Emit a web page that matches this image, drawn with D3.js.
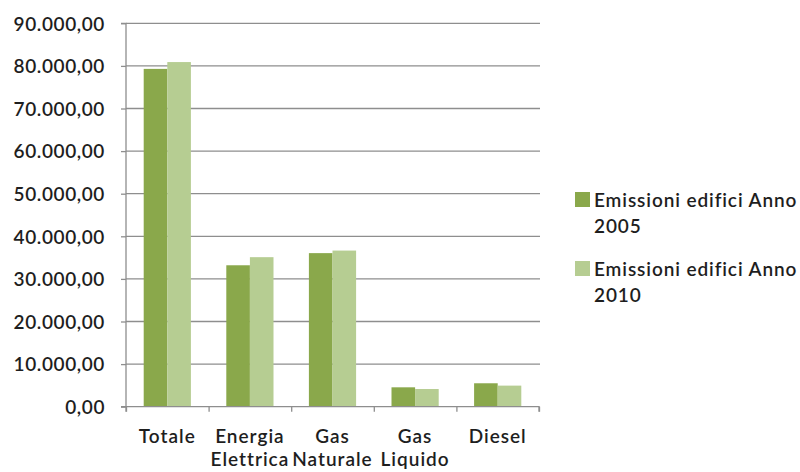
<!DOCTYPE html>
<html><head><meta charset="utf-8">
<script src="https://cdn.jsdelivr.net/npm/d3@7"></script>
<style>body{margin:0;background:#fff}</style>
</head><body>
<svg id="c" width="800" height="472"></svg>
<script>
const categories = [["Totale"], ["Energia","Elettrica"], ["Gas","Naturale"], ["Gas","Liquido"], ["Diesel"]];
const series = ["Emissioni edifici Anno 2005", "Emissioni edifici Anno 2010"];
const legendLines = [["Emissioni edifici Anno","2005"],["Emissioni edifici Anno","2010"]];
const values2005 = [79300, 33200, 36050, 4550, 5500];
const values2010 = [80900, 35100, 36650, 4150, 4950];
const yTicks = [0,10000,20000,30000,40000,50000,60000,70000,80000,90000];
const colors = ["#8aa84b", "#b6cd92"];

(function(){
const svg = d3.select("#c");
const pLeft = 126, pRight = 539, pTop = 23.3, pBottom = 406.7;
const font = "Lato, 'Open Sans', sans-serif";
const fs = 19;

const x = d3.scaleBand().domain(d3.range(categories.length)).range([pLeft, pRight]).paddingInner(0).paddingOuter(0);
const y = d3.scaleLinear().domain([0, 90000]).range([pBottom, pTop]);
const bw = x.bandwidth() / 3.5;

const fmt = v => d3.format(",.2f")(v).replace(/,/g,"#").replace(/\./g,",").replace(/#/g,".");

// gridlines
svg.append("g").selectAll("line").data(yTicks.filter(d=>d>0)).join("line")
  .attr("x1", pLeft).attr("x2", 540).attr("y1", d=>y(d)).attr("y2", d=>y(d))
  .attr("stroke", "#8e8e8e").attr("stroke-width", 1.3);

// bars
const gap = (x.bandwidth() - 2*bw)/2;
const data = [];
categories.forEach((c,i)=>{ data.push({i, s:0, v:values2005[i]}); data.push({i, s:1, v:values2010[i]}); });
svg.append("g").selectAll("rect").data(data).join("rect")
  .attr("x", d => x(d.i) + gap + d.s*bw)
  .attr("width", bw)
  .attr("y", d => y(d.v))
  .attr("height", d => y(0) - y(d.v))
  .attr("fill", d => colors[d.s]);

// y axis
const yAxis = d3.axisLeft(y).tickValues(yTicks).tickSize(5).tickPadding(6).tickFormat(fmt);
const gy = svg.append("g").attr("transform", `translate(${pLeft},0)`).call(yAxis);
gy.select(".domain").attr("stroke", "#8e8e8e").attr("stroke-width", 1.3).attr("d", `M-5,${pTop}H0V${pBottom}H-5`);
gy.selectAll(".tick line").attr("stroke", "#8e8e8e").attr("stroke-width", 1.3);
gy.selectAll(".tick text").attr("font-family", font).attr("font-size", fs).attr("font-weight", 600)
  .attr("letter-spacing", 0.6).attr("fill", "#1e1e1e").attr("x", -21).attr("dy", "0.36em");

// x axis
const xb = d3.scaleLinear().domain([0, categories.length]).range([pLeft, pRight]);
const xAxis = d3.axisBottom(xb).tickValues(d3.range(categories.length+1)).tickSize(5).tickFormat("");
const gx = svg.append("g").attr("transform", `translate(0,${pBottom})`).call(xAxis);
gx.select(".domain").attr("stroke", "#8e8e8e").attr("stroke-width", 1.3).attr("d", `M${pLeft},5V0H${pRight}V5`);
gx.selectAll(".tick line").attr("stroke", "#8e8e8e").attr("stroke-width", 1.3);

const lab = svg.append("g").selectAll("text").data(categories).join("text")
  .attr("x", (d,i)=> x(i) + x.bandwidth()/2).attr("y", 443)
  .attr("text-anchor", "middle").attr("font-family", font).attr("font-size", fs).attr("font-weight", 600)
  .attr("letter-spacing", 1).attr("fill", "#1e1e1e");
lab.selectAll("tspan").data(d=>d).join("tspan")
  .attr("x", function(){ return this.parentNode.getAttribute("x"); })
  .attr("dy", (d,j)=> j===0 ? 0 : 22.5).text(d=>d);

// legend
const lg = svg.append("g").selectAll("g").data(series).join("g")
  .attr("transform", (d,i)=>`translate(575,${192 + i*69})`);
lg.append("rect").attr("width", 15).attr("height", 15).attr("fill", (d,i)=>colors[i]);
const lt = lg.append("text").attr("x", 19).attr("y", 14.7).attr("font-family", font).attr("font-size", fs).attr("font-weight", 600)
  .attr("letter-spacing", 0.9).attr("fill", "#1e1e1e");
lt.selectAll("tspan").data((d,i)=>legendLines[i]).join("tspan")
  .attr("x", 19).attr("dy", (d,j)=> j===0 ? 0 : 26.5).text(d=>d);
})();
</script>
</body></html>
